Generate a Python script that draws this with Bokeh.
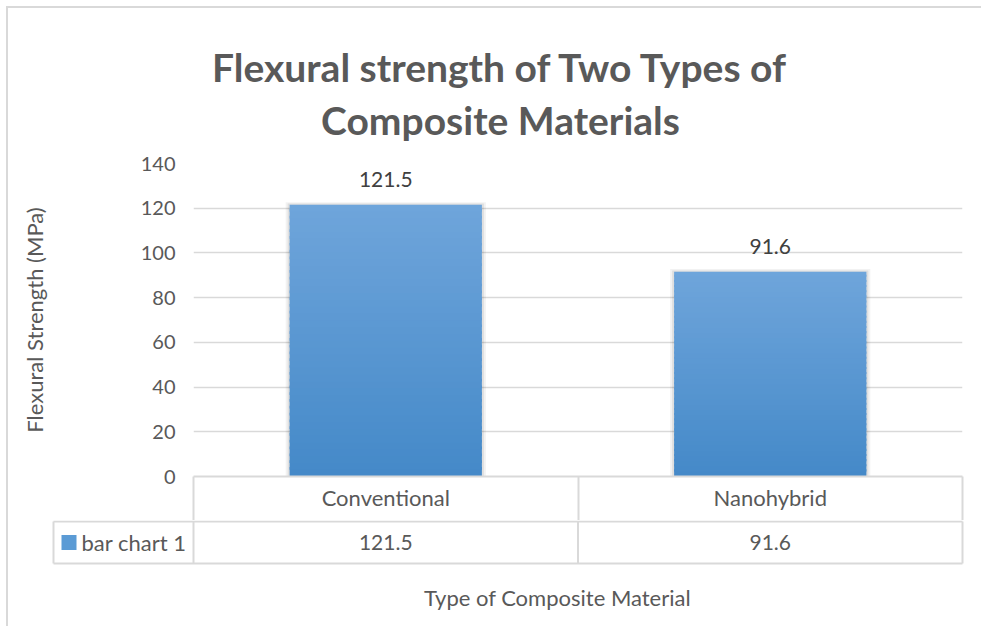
from bokeh.plotting import figure
from bokeh.layouts import column
from bokeh.models import Range1d, FixedTicker
from bokeh.core.properties import value
from bokeh.embed import file_html
from bokeh.resources import INLINE

# ---------------- data ----------------
categories = ["Conventional", "Nanohybrid"]
strength = [121.5, 91.6]
series_name = "bar chart 1"
y_ticks = [0, 20, 40, 60, 80, 100, 120, 140]
title_lines = ["Flexural strength of Two Types of", "Composite Materials"]
x_title = "Type of Composite Material"
y_title = "Flexural Strength (MPa)"

# ---------------- style ----------------
FONT = "Lato"
TXT = "#595959"
VAL = "#404040"
GRID = "#d9d9d9"
TOP_C = (111, 165, 219)
BOT_C = (68, 137, 200)

n = len(categories)
xc = [i + 0.5 for i in range(n)]
y_max = y_ticks[-1]

OFF = 8                      # css border offset (left / top)
W = 981 - OFF
FR_L, FR_R, FR_T, FR_B = 193, 962, 163, 476
PX_X = (FR_R - FR_L) / n     # px per x unit
PX_Y = (FR_B - FR_T) / y_max # px per y unit

# ---------------- title strip ----------------
T_BOT = 150
pT = figure(width=W, height=T_BOT - OFF,
            x_range=Range1d((OFF - FR_L) / PX_X, (981 - FR_L) / PX_X),
            y_range=Range1d(T_BOT, OFF), title=None,
            x_axis_type=None, y_axis_type=None, output_backend="svg", toolbar_location=None,
            min_border_left=0, min_border_right=0, min_border_top=0, min_border_bottom=0)
pT.frame_align = False
pT.outline_line_color = None
for line, base in zip(title_lines, [66.5, 119.5]):
    pT.text(x=[(500 - FR_L) / PX_X], y=[base], text=[line],
            text_align="center", text_baseline="alphabetic", text_font=value(FONT),
            text_font_style="bold", text_font_size="39px", text_color=TXT)

# ---------------- plot area + category row ----------------
A_H = 520 - T_BOT
pA = figure(width=W, height=A_H, x_range=Range1d(0, n), y_range=Range1d(0, y_max),
            title=None, output_backend="svg", toolbar_location=None,
            min_border_left=FR_L - OFF, min_border_right=981 - FR_R,
            min_border_top=FR_T - T_BOT, min_border_bottom=T_BOT + A_H - FR_B)
pA.frame_align = False
pA.outline_line_color = None

# y axis
yax = pA.yaxis[0]
yax.ticker = FixedTicker(ticks=y_ticks)
yax.axis_line_color = None
yax.major_tick_line_color = None
yax.minor_tick_line_color = None
yax.major_tick_in = 0
yax.major_tick_out = 0
yax.minor_tick_in = 0
yax.minor_tick_out = 0
yax.major_label_standoff = 18
yax.major_label_text_font = FONT
yax.major_label_text_font_size = "20px"
yax.major_label_text_color = TXT
yax.axis_label = y_title
yax.axis_label_text_font = FONT
yax.axis_label_text_font_style = "normal"
yax.axis_label_text_font_size = "22px"
yax.axis_label_text_color = TXT
yax.axis_label_standoff = 90
pA.ygrid.grid_line_color = GRID
pA.ygrid.grid_line_width = 1.5
pA.xgrid.visible = False

# x axis -> category row of the data table
xax = pA.xaxis[0]
xax.ticker = FixedTicker(ticks=xc, minor_ticks=list(range(n + 1)))
xax.major_label_overrides = {x: c for x, c in zip(xc, categories)}
xax.major_tick_line_color = None
xax.major_tick_in = 0
xax.major_tick_out = 0
xax.minor_tick_in = 0
xax.minor_tick_out = 44
xax.minor_tick_line_color = GRID
xax.minor_tick_line_width = 2
xax.axis_line_color = GRID
xax.axis_line_width = 2
xax.major_label_standoff = -37
xax.major_label_text_font = FONT
xax.major_label_text_font_size = "22px"
xax.major_label_text_color = TXT

# bar shadow
for extra, alpha in [(8, 0.05), (4, 0.08)]:
    pA.vbar(x=xc, top=[v + extra / PX_Y / 3 for v in strength], bottom=0,
            width=0.5 + extra / PX_X, fill_color="black", fill_alpha=alpha, line_color=None)

# gradient bars (slices)
N = 40
gx, gb, gt, gc = [], [], [], []
for x, v in zip(xc, strength):
    for k in range(N):
        f = (k + 0.5) / N
        c = tuple(int(round(BOT_C[j] + (TOP_C[j] - BOT_C[j]) * f)) for j in range(3))
        gx.append(x)
        gb.append(v * k / N)
        gt.append(min(v, v * (k + 1.4) / N))
        gc.append("#%02x%02x%02x" % c)
pA.vbar(x=gx, bottom=gb, top=gt, width=0.5, fill_color=gc, line_color=None)

# data labels
pA.text(x=xc, y=strength, text=[str(v) for v in strength], y_offset=-25,
        text_align="center", text_baseline="middle", text_font=value(FONT),
        text_font_size="21px", text_color=VAL)

# ---------------- table row with series values ----------------
B_H = 626 - 520
BL_, BR_ = 51, 964
x_start = -(FR_L - BL_) / PX_X
x_end = n + (BR_ - FR_R) / PX_X
ROW = 42.0
y_top = 1 + 1 / ROW
y_bot = y_top - B_H / ROW

pB = figure(width=W, height=B_H, x_range=Range1d(x_start, x_end), y_range=Range1d(y_bot, y_top),
            title=None, x_axis_type=None, y_axis_type=None, output_backend="svg", toolbar_location=None,
            min_border_left=BL_ - OFF, min_border_right=981 - BR_, min_border_top=0, min_border_bottom=0)
pB.frame_align = False
pB.outline_line_color = None

leg_l = -(FR_L - 53) / PX_X
vx = [leg_l] + list(range(n + 1))
pB.segment(x0=[leg_l, leg_l] + vx, y0=[0, 1] + [0] * len(vx),
           x1=[n, n] + vx, y1=[0, 1] + [1] * len(vx), line_color=GRID, line_width=2)

pB.scatter(x=[(68.5 - FR_L) / PX_X], y=[0.5], marker="square", size=15,
           fill_color="#5b9bd5", line_color=None)
pB.text(x=[(81 - FR_L) / PX_X], y=[0.5], text=[series_name], text_align="left",
        text_baseline="middle", text_font=value(FONT), text_font_size="22px", text_color=TXT)
pB.text(x=xc, y=[0.5] * n, text=[str(v) for v in strength], text_align="center",
        text_baseline="middle", text_font=value(FONT), text_font_size="21px", text_color=TXT)
pB.text(x=[(557 - FR_L) / PX_X], y=[-(597 - 563) / ROW], text=[x_title], text_align="center",
        text_baseline="middle", text_font=value(FONT), text_font_size="22px", text_color=TXT)

layout = column(pT, pA, pB, spacing=0,
                styles={"border-top": "2px solid #d9d9d9", "border-left": "2px solid #d9d9d9",
                        "margin-top": "6px", "margin-left": "6px"})

open("out.html", "w").write(file_html(layout, INLINE))
